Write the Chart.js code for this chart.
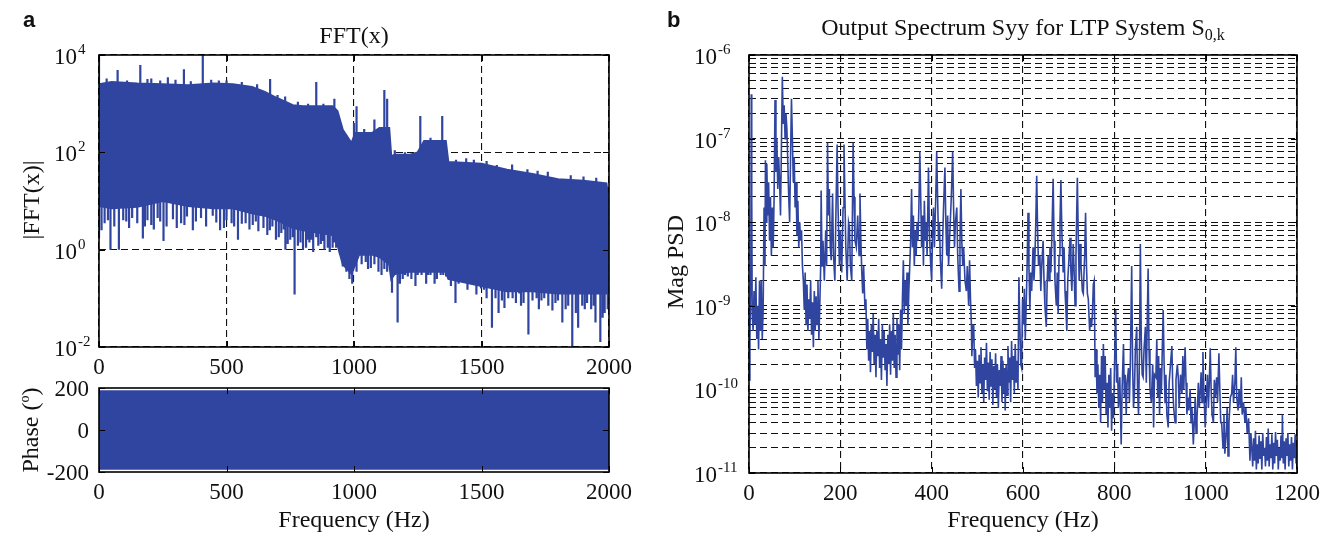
<!DOCTYPE html>
<html lang="en">
<head>
  <meta charset="UTF-8">
  <title>FFT and Output Spectrum</title>
  <script src="https://cdn.jsdelivr.net/npm/chart.js"></script>
  <style>
    body {
      margin: 0;
      background: #fff;
      font-family: 'Liberation Serif', 'Times New Roman', serif;
      color: #111;
    }
    #wrap {
      position: relative;
      width: 1338px;
      height: 539px;
      overflow: hidden;
    }
    #wrap canvas {
      position: absolute;
      left: 0;
      top: 0;
    }
    .txt {
      position: absolute;
      font-size: 24px;
      line-height: 1;
      white-space: nowrap;
    }
    .center { transform: translateX(-50%); }
    .vert { transform: translate(-50%, -50%) rotate(-90deg); }
    .panel {
      position: absolute;
      font-family: 'Liberation Sans', Arial, sans-serif;
      font-weight: bold;
      font-size: 22px;
      line-height: 1;
    }
    sub { font-size: 16px; vertical-align: -5px; }
    sup { font-size: 14px; vertical-align: 9px; }
  </style>
</head>
<body>
<div id="wrap">
  <canvas id="fftChart" width="1338" height="539"></canvas>
  <canvas id="phaseChart" width="1338" height="539"></canvas>
  <canvas id="psdChart" width="1338" height="539"></canvas>

  <div class="panel" style="left:23px;top:9px;">a</div>
  <div class="panel" style="left:667px;top:9px;">b</div>

  <div class="txt center" style="left:354px;top:23px;">FFT(x)</div>
  <div class="txt center" style="left:1023px;top:15px;">Output Spectrum Syy for LTP System S<sub>0,k</sub></div>

  <div class="txt vert" style="left:31px;top:200px;">|FFT(x)|</div>
  <div class="txt vert" style="left:30px;top:430px;">Phase (<sup>o</sup>)</div>
  <div class="txt vert" style="left:675px;top:262px;">Mag PSD</div>

  <div class="txt center" style="left:354px;top:507px;">Frequency (Hz)</div>
  <div class="txt center" style="left:1023px;top:507px;">Frequency (Hz)</div>
</div>

<script>
// ---- panel a: |FFT(x)| band (upper / lower envelope), peaks and dips ----
const fftFreq  = [0, 50, 150, 250, 350, 450, 525, 600, 650, 700, 760, 800, 916, 935, 956, 990, 1005, 1020, 1070, 1100, 1138, 1146, 1160, 1220, 1250, 1275, 1360, 1370, 1500, 1600, 1700, 1800, 1900, 1990, 2000];
const fftUpper = [2500, 2800, 2600, 2500, 2400, 2600, 2500, 2200, 1740, 1290, 930, 890, 890, 710, 290, 155, 250, 250, 250, 316, 316, 83, 89, 89, 100, 170, 170, 63, 58, 44, 36, 28, 26, 23, 9];
const fftLower = [7.9, 7.1, 7.6, 10, 7.9, 7.1, 7.1, 5.6, 5.0, 4.0, 2.8, 2.5, 2.0, 1.26, 0.5, 0.32, 0.5, 0.79, 0.79, 0.71, 0.5, 0.25, 0.32, 0.35, 0.35, 0.35, 0.35, 0.25, 0.18, 0.14, 0.14, 0.126, 0.126, 0.126, 0.25];

const fftPeaks = [[0, 10000], [30, 3300], [73, 4900], [110, 3000], [162, 6200], [190, 3200], [205, 3300], [240, 3000],
  [270, 3500], [300, 3100], [333, 5100], [360, 2900], [407, 10000], [440, 3100], [470, 3000], [500, 3000], [560, 2800],
  [620, 2500], [671, 3200], [700, 1500], [730, 1400], [780, 1100], [820, 1000], [852, 2800], [880, 1000], [923, 1260],
  [1000, 400], [1010, 890], [1040, 300], [1080, 470], [1119, 1900], [1130, 1260], [1160, 110], [1200, 100], [1260, 560],
  [1300, 200], [1346, 560], [1400, 70], [1440, 76], [1470, 70], [1520, 66], [1560, 55], [1620, 56], [1680, 45], [1720, 42],
  [1760, 40], [1850, 34], [1900, 32], [1950, 30]];

const fftDips = [[0, 1.7], [10, 2.5], [22, 3.5], [35, 4], [45, 1.0], [60, 3], [78, 1.0], [95, 4], [107, 3.8], [118, 2.8],
  [130, 4.5], [150, 3.5], [172, 1.7], [180, 3], [190, 4], [205, 3.2], [215, 2.6], [230, 4.5], [240, 3.8], [253, 1.5],
  [265, 3], [290, 4.2], [305, 2.8], [322, 3.5], [335, 3.2], [345, 4.8], [368, 2.5], [380, 3.8], [400, 4.5], [420, 3],
  [446, 5], [460, 3.6], [475, 2.5], [490, 2.8], [500, 4], [520, 3.5], [530, 3], [545, 1.6], [560, 3.4], [575, 3.5],
  [590, 2.6], [603, 3.2], [615, 3.8], [625, 2.4], [645, 2.8], [660, 2], [670, 2.5], [680, 3], [694, 1.6], [705, 1.8],
  [715, 2.2], [725, 2.6], [731, 1.0], [740, 1.3], [750, 1.6], [760, 1.8], [767, 0.12], [780, 1.2], [790, 1.4], [800, 1.0],
  [812, 1.1], [819, 1.6], [825, 1.4], [832, 1.6], [840, 0.9], [852, 1.8], [860, 1.2], [870, 1.3], [878, 1.5], [884, 1.0],
  [897, 1.1], [905, 0.9], [916, 1.1], [923, 1.4], [930, 1.1], [945, 0.8], [956, 0.45], [970, 0.35], [982, 0.25], [993, 0.2],
  [1010, 0.35], [1030, 0.5], [1046, 0.56], [1055, 0.4], [1066, 0.42], [1080, 0.5], [1096, 0.35], [1108, 0.3], [1119, 0.4],
  [1130, 0.35], [1149, 0.13], [1160, 0.3], [1171, 0.032], [1180, 0.2], [1191, 0.25], [1200, 0.3], [1211, 0.28], [1225, 0.25],
  [1241, 0.18], [1250, 0.3], [1265, 0.3], [1283, 0.2], [1290, 0.3], [1300, 0.3], [1316, 0.2], [1325, 0.25], [1340, 0.3],
  [1350, 0.3], [1361, 0.28], [1380, 0.18], [1398, 0.08], [1410, 0.2], [1426, 0.22], [1445, 0.15], [1455, 0.2], [1466, 0.25],
  [1480, 0.12], [1498, 0.16], [1510, 0.15], [1520, 0.1], [1541, 0.025], [1555, 0.1], [1567, 0.05], [1580, 0.09], [1590, 0.063],
  [1605, 0.1], [1622, 0.1], [1635, 0.08], [1648, 0.126], [1655, 0.07], [1665, 0.08], [1684, 0.018], [1700, 0.09], [1716, 0.1],
  [1725, 0.06], [1735, 0.09], [1746, 0.1], [1762, 0.07], [1778, 0.056], [1790, 0.08], [1800, 0.09], [1817, 0.032], [1830, 0.06],
  [1840, 0.07], [1856, 0.01], [1870, 0.05], [1879, 0.025], [1895, 0.07], [1905, 0.06], [1914, 0.08], [1930, 0.06], [1940, 0.07],
  [1947, 0.032], [1966, 0.0126], [1975, 0.04], [1983, 0.05], [1995, 0.06]];

const fftTicksY = [1e-2, 1, 1e2, 1e4];
const freqTicksA = [0, 500, 1000, 1500, 2000];

// ---- panel a: phase ----
const phaseFreq  = [0, 2000];
const phaseUpper = [185, 185];
const phaseLower = [-185, -185];
const phaseTicks = [-200, 0, 200];

// ---- panel b: output spectrum Syy ----
const psdPoints = [
  [0, 1.3e-10], [2, 4e-10], [4, 2.5e-9], [5, 3.4e-7], [6, 2e-8], [7, 8e-10], [9, 5e-10], [11, 1.5e-9], [13, 6e-10], [15, 2.2e-9],
  [17, 4e-10], [19, 1e-9], [21, 3e-10], [23, 2e-9], [25, 5e-10], [27, 2e-9], [29, 4e-10], [31, 9e-10], [33, 1.5e-8], [35, 3e-9],
  [36, 5.5e-8], [38, 1e-8], [39, 5e-8], [41, 1.2e-8], [43, 3e-8], [45, 6e-9], [47, 2e-8], [49, 4e-9], [51, 1.5e-8], [53, 5e-9],
  [55, 2e-8], [57, 2.9e-7], [59, 4e-8], [61, 1e-7], [63, 2.5e-8], [65, 6e-8], [67, 3e-8], [69, 1.2e-8], [71, 8e-8], [73, 5.5e-7],
  [75, 1.5e-7], [77, 2.5e-7], [79, 1e-7], [81, 2e-7], [83, 1.3e-7], [85, 5e-8], [87, 2e-8], [89, 1e-8], [91, 6e-8], [93, 3e-7],
  [95, 1e-7], [97, 3e-8], [99, 6e-8], [101, 1.5e-8], [103, 3e-8], [105, 7e-9], [107, 1.8e-8], [109, 5e-9], [111, 1e-8], [113, 6e-9],
  [115, 8e-9], [117, 3e-9], [119, 2e-9], [121, 9e-10], [123, 2.5e-9], [125, 6e-10], [127, 1.8e-9], [129, 5e-10], [131, 1.2e-9],
  [133, 7e-10], [135, 2e-9], [137, 4.5e-10], [139, 1.1e-9], [141, 3.2e-10], [143, 1.5e-9], [145, 5e-10], [147, 1.3e-9], [149, 6e-10],
  [151, 2e-9], [153, 4e-10], [155, 1e-9], [157, 3e-9], [158, 2.4e-8], [160, 3e-9], [162, 6e-9], [165, 2e-9], [168, 8e-9], [170, 3e-9],
  [172, 9e-8], [174, 1.2e-8], [176, 2.5e-8], [178, 5e-9], [180, 3.5e-9], [183, 2.2e-8], [185, 4e-9], [188, 2e-9], [190, 1e-8],
  [193, 8.5e-8], [195, 1.5e-8], [198, 3e-9], [200, 8e-9], [203, 2.5e-9], [206, 1.5e-8], [208, 8.5e-8], [210, 2e-8], [212, 5e-9],
  [215, 2e-9], [218, 1e-8], [220, 8.7e-9], [222, 3e-9], [225, 2e-9], [228, 9e-8], [230, 2e-8], [232, 6e-9], [235, 5e-9], [238, 1.2e-8],
  [241, 4e-9], [243, 2.2e-8], [245, 6e-9], [247, 2.5e-9], [249, 1.4e-9], [251, 3e-9], [254, 9e-10], [256, 1.2e-9],
  [258, 3e-10], [260, 7e-10], [262, 2.2e-10], [264, 5e-10], [266, 1.6e-10], [268, 6e-10], [270, 2.8e-10], [272, 8e-10], [274, 2e-10],
  [276, 4.5e-10], [278, 1.4e-10], [280, 5e-10], [282, 2.5e-10], [284, 7e-10], [286, 1.8e-10], [288, 4e-10], [290, 1.3e-10], [292, 6e-10],
  [294, 2.4e-10], [296, 5e-10], [298, 1.7e-10], [300, 3.5e-10], [302, 1.1e-10], [304, 4.5e-10], [306, 2e-10], [308, 6e-10], [310, 1.5e-10],
  [312, 5e-10], [314, 2.2e-10], [316, 8e-10], [318, 1.8e-10], [320, 4.5e-10], [322, 1.4e-10], [324, 7e-10], [326, 2.6e-10], [328, 6e-10],
  [330, 1.7e-10], [332, 9e-10], [334, 3e-10], [336, 1.2e-9], [338, 3.5e-9], [340, 8e-10], [342, 2e-9], [344, 1e-9], [346, 2.5e-9],
  [348, 6e-10], [350, 1.5e-9], [352, 3e-9], [354, 6e-9], [356, 2.5e-8], [358, 5e-9], [360, 1.2e-8], [362, 3e-9], [364, 8e-9], [366, 4e-9],
  [368, 1e-8], [370, 6e-9], [372, 1.5e-8], [374, 7e-8], [376, 2e-8], [378, 5e-9], [380, 1.2e-8], [382, 3e-9], [384, 1.8e-8], [386, 6e-9],
  [388, 1e-8], [390, 4e-9], [393, 4.5e-8], [395, 8e-9], [398, 3e-9], [400, 2e-9], [402, 8e-9], [404, 1.5e-8], [406, 5e-9], [409, 2e-8],
  [411, 7e-8], [413, 2e-8], [415, 6e-9], [417, 1e-8], [419, 3.5e-9], [422, 1.6e-9], [424, 6e-9], [426, 1.5e-8], [429, 4.5e-8], [431, 1e-8],
  [433, 4e-9], [435, 1.2e-8], [437, 3e-9], [440, 8e-9], [443, 2e-8], [446, 7e-8], [448, 1.5e-8], [450, 5e-9], [452, 1e-8], [455, 1.5e-8],
  [457, 4e-9], [460, 1.5e-9], [462, 6e-9], [464, 2.5e-8], [466, 6e-9], [468, 3e-9], [470, 5e-9], [473, 2e-9], [476, 1.5e-9], [478, 3e-9],
  [481, 1e-9], [483, 3.5e-9], [485, 1.2e-9], [487, 6e-10], [488, 2.5e-10], [490, 5e-10], [492, 6e-10],
  [494, 1.8e-10], [496, 3e-10], [498, 1.1e-10], [500, 2.2e-10], [502, 8e-11], [504, 2.6e-10], [506, 1.2e-10], [508, 3.2e-10], [510, 9e-11],
  [512, 2e-10], [514, 7e-11], [516, 2.4e-10], [518, 1.3e-10], [520, 3.6e-10], [522, 9.5e-11], [524, 2.1e-10], [526, 7.5e-11], [528, 2.8e-10],
  [530, 1.1e-10], [532, 2.3e-10], [534, 6.5e-11], [536, 1.9e-10], [538, 1e-10], [540, 2.7e-10], [542, 8e-11], [544, 2e-10], [546, 6e-11],
  [548, 1.7e-10], [550, 1.1e-10], [552, 2.5e-10], [554, 7e-11], [556, 2.2e-10], [558, 9e-11], [560, 1.8e-10], [561, 5.6e-11], [563, 2e-10],
  [565, 8.5e-11], [567, 3.3e-10], [569, 1.2e-10], [571, 2.4e-10], [573, 7e-11], [575, 3.8e-10], [577, 1.3e-10], [579, 2.5e-10], [581, 9e-11],
  [583, 3.5e-10], [585, 1.2e-10], [587, 2.2e-10], [589, 1e-10], [591, 2.2e-9], [593, 6e-10], [595, 2e-10], [597, 1.8e-10], [599, 1.2e-9],
  [601, 6e-10], [603, 1.6e-9], [605, 4e-10], [607, 1e-9], [609, 3e-9], [611, 1.3e-8], [613, 3e-9], [615, 9e-10], [617, 2.5e-9], [619, 1.5e-9],
  [622, 5e-9], [624, 2e-9], [626, 3.5e-9], [628, 1e-8], [630, 3.6e-8], [632, 8e-9], [634, 3e-9], [637, 4e-9], [639, 1.5e-9], [641, 3e-9],
  [644, 6e-9], [646, 2e-9], [648, 1e-9], [651, 5.6e-10], [653, 2e-9], [655, 4e-9], [657, 2e-9], [659, 5e-9], [661, 2.5e-9], [663, 6e-9],
  [666, 3.3e-8], [668, 6e-9], [670, 2e-9], [673, 1e-9], [675, 2.5e-9], [677, 8e-10], [679, 4e-9], [681, 1e-8], [683, 3.2e-8], [685, 8e-9],
  [688, 2.5e-9], [690, 5e-9], [692, 1.5e-9], [694, 9e-10], [696, 5e-10], [698, 2e-9], [701, 4e-9], [703, 6.5e-9], [705, 2.5e-9], [707, 1.5e-9],
  [710, 5.5e-9], [712, 2.5e-9], [714, 1e-9], [716, 4e-9], [719, 3.4e-8], [721, 7e-9], [723, 2e-9], [725, 5.5e-9], [727, 3e-9], [730, 1.5e-9],
  [732, 1.4e-9], [735, 4e-9], [737, 1.3e-8], [739, 3e-9], [741, 1.4e-9], [743, 1.2e-9], [746, 5e-10], [748, 7e-10], [750, 5.6e-10],
  [752, 8e-10], [754, 1.8e-9], [756, 2e-9], [758, 1.4e-10], [760, 3e-10], [762, 9e-11], [764, 2e-10], [766, 6e-11], [768, 1.5e-10],
  [770, 4e-11], [772, 2.5e-10], [774, 7e-11], [776, 3.5e-10], [778, 1e-10], [780, 2.5e-10], [782, 5e-11], [784, 1.2e-10], [786, 3.5e-11],
  [788, 1.5e-10], [790, 6e-11], [792, 1.8e-10], [794, 3.2e-11], [796, 9e-11], [798, 4.5e-11], [800, 1.5e-10], [803, 8.9e-10], [805, 1.2e-10],
  [807, 2e-10], [809, 6e-11], [812, 1.4e-10], [815, 2.2e-11], [817, 1e-10], [820, 3.5e-10], [822, 8e-11], [824, 1.5e-10], [826, 5e-11],
  [828, 1.2e-10], [831, 1.8e-10], [833, 7e-11], [835, 2e-10], [838, 3e-9], [840, 2e-10], [842, 6e-11], [844, 8.9e-11], [846, 3e-10],
  [849, 5.6e-10], [851, 9e-11], [853, 5e-11], [855, 2.5e-10], [857, 5.5e-9], [859, 4e-10], [861, 1.5e-10], [863, 1.4e-10], [865, 3e-10],
  [868, 5.6e-10], [870, 1.2e-10], [872, 6e-10], [874, 2.8e-9], [876, 3e-10], [878, 1e-10], [881, 7e-11], [884, 2e-10], [886, 3.5e-11],
  [888, 1.5e-10], [891, 1.4e-10], [893, 4e-10], [895, 8e-11], [897, 2.5e-10], [899, 5e-11], [901, 1.8e-10], [903, 9e-11], [905, 3e-10],
  [907, 8.9e-10], [909, 2e-10], [911, 7e-11], [913, 1.5e-10], [915, 5e-11], [918, 3.5e-11], [920, 1.2e-10], [923, 2e-10], [926, 3.3e-10],
  [928, 1e-10], [930, 6e-11], [933, 4e-11], [935, 1.3e-10], [938, 2e-10], [940, 1.4e-10], [942, 6e-11], [945, 1.5e-10], [948, 8.9e-11],
  [950, 2.5e-10], [952, 1e-10], [955, 3.2e-10], [957, 1.2e-10], [959, 5e-11], [961, 8e-11], [963, 5.6e-11], [966, 1e-10], [968, 4e-11],
  [970, 6e-11], [973, 2.2e-11], [975, 4e-11], [977, 8e-11], [979, 3e-11], [981, 4.5e-11], [984, 1.2e-10], [986, 6e-11], [988, 9e-11],
  [990, 1.6e-10], [992, 7e-11], [994, 2.8e-10], [996, 1e-10], [999, 3.5e-11], [1002, 8.9e-11], [1004, 1.5e-10], [1006, 6e-11], [1008, 1.2e-10],
  [1010, 3.1e-10], [1012, 1e-10], [1014, 5e-11], [1017, 4e-11], [1019, 1.3e-10], [1021, 8e-11], [1024, 1.4e-10], [1026, 7e-11], [1029, 2.7e-10],
  [1031, 1e-10], [1033, 4e-11], [1035, 4e-11], [1038, 2e-11], [1040, 5e-11], [1042, 1.7e-11], [1045, 3e-11], [1047, 6e-11], [1049, 1.6e-11],
  [1051, 4e-11], [1054, 8e-11], [1057, 8.9e-11], [1059, 1.5e-10], [1061, 7e-11], [1064, 1.2e-10], [1066, 3.2e-10], [1068, 8e-11], [1071, 5.6e-11],
  [1073, 1e-10], [1076, 6e-11], [1078, 1.4e-10], [1080, 5e-11], [1083, 7e-11], [1086, 4e-11], [1088, 6e-11], [1091, 3e-11], [1094, 4.5e-11],
  [1097, 1.4e-11], [1099, 3e-11], [1101, 2e-11], [1103, 1.2e-11], [1105, 2.6e-11], [1107, 1.4e-11], [1109, 3.2e-11], [1111, 1.1e-11],
  [1113, 2.2e-11], [1115, 1.3e-11], [1117, 2.8e-11], [1119, 1.5e-11], [1121, 2.4e-11], [1123, 1.1e-11], [1125, 3e-11], [1127, 1.6e-11],
  [1129, 2e-11], [1131, 1.2e-11], [1133, 2.7e-11], [1135, 1.4e-11], [1137, 3.4e-11], [1139, 1.2e-11], [1141, 2.2e-11], [1143, 1.5e-11],
  [1145, 2.9e-11], [1147, 1.1e-11], [1149, 2.3e-11], [1151, 1.3e-11], [1153, 3.1e-11], [1155, 1.6e-11], [1157, 2.5e-11], [1159, 1.1e-11],
  [1161, 2e-11], [1163, 1.4e-11], [1165, 2.8e-11], [1167, 1.5e-11], [1168, 5e-11], [1170, 1.3e-11], [1172, 2.4e-11], [1174, 1.1e-11],
  [1176, 2.6e-11], [1178, 1.6e-11], [1180, 3e-11], [1182, 1.2e-11], [1184, 2.2e-11], [1186, 1.4e-11], [1188, 2.7e-11], [1190, 1.1e-11],
  [1192, 2.3e-11], [1194, 1.5e-11], [1196, 2.9e-11], [1198, 1.3e-11], [1200, 2.1e-11]
];

const psdTicksX = [0, 200, 400, 600, 800, 1000, 1200];
const psdDecades = [1e-11, 1e-10, 1e-9, 1e-8, 1e-7, 1e-6];

// ---------------------------------------------------------------
const BLUE = '#3045a0';
const SERIF = "'Liberation Serif', 'Times New Roman', serif";

// geometric interpolation of an envelope at frequency f
function envAt(vals, f) {
  for (let i = 0; i < fftFreq.length - 1; i++) {
    if (f <= fftFreq[i + 1]) {
      const t = (f - fftFreq[i]) / (fftFreq[i + 1] - fftFreq[i]);
      return Math.exp(Math.log(vals[i]) * (1 - t) + Math.log(vals[i + 1]) * t);
    }
  }
  return vals[vals.length - 1];
}

// vertical strokes from inside the band out to each spike value
function spikeSegments(list) {
  const out = [];
  list.forEach(([f, v]) => {
    const mid = Math.sqrt(envAt(fftUpper, f) * envAt(fftLower, f));
    out.push({ x: f, y: mid }, { x: f, y: v }, { x: f, y: null });
  });
  return out;
}

// box, inward tick marks and tick labels drawn around the chart area
const frame = {
  id: 'frame',
  afterDraw(chart, args, o) {
    const ctx = chart.ctx;
    const a = chart.chartArea;
    const xs = chart.scales.x, ys = chart.scales.y;
    ctx.save();
    ctx.strokeStyle = '#000';
    ctx.fillStyle = '#111';
    ctx.lineWidth = 1;
    ctx.beginPath();
    o.xTicks.forEach(v => {
      const px = Math.round(xs.getPixelForValue(v)) + 0.5;
      ctx.moveTo(px, a.bottom); ctx.lineTo(px, a.bottom - 6);
      ctx.moveTo(px, a.top); ctx.lineTo(px, a.top + 6);
    });
    o.yTicks.forEach(v => {
      const py = Math.round(ys.getPixelForValue(v)) + 0.5;
      ctx.moveTo(a.left, py); ctx.lineTo(a.left + 6, py);
      ctx.moveTo(a.right, py); ctx.lineTo(a.right - 6, py);
    });
    ctx.stroke();
    ctx.lineWidth = 1.6;
    ctx.strokeRect(a.left, a.top, a.right - a.left, a.bottom - a.top);

    ctx.font = '23px ' + SERIF;
    ctx.textAlign = 'center';
    ctx.textBaseline = 'alphabetic';
    o.xTicks.forEach(v => ctx.fillText(String(v), xs.getPixelForValue(v), a.bottom + 27));

    o.yTicks.forEach(v => {
      const py = ys.getPixelForValue(v);
      if (o.log) {
        const e = Math.round(Math.log10(v));
        ctx.font = '23px ' + SERIF;
        ctx.textAlign = 'right';
        ctx.textBaseline = 'middle';
        ctx.fillText('10', a.left - o.yGap, py + 3);
        ctx.font = '15px ' + SERIF;
        ctx.textAlign = 'left';
        ctx.fillText(String(e), a.left - o.yGap + 1, py - 5);
      } else {
        ctx.font = '23px ' + SERIF;
        ctx.textAlign = 'right';
        ctx.textBaseline = 'middle';
        ctx.fillText(String(v), a.left - o.yGap, py + 2);
      }
    });
    ctx.restore();
  }
};

function baseOptions(pad) {
  return {
    responsive: false,
    animation: false,
    devicePixelRatio: 1,
    events: [],
    layout: { padding: pad },
    plugins: { legend: { display: false }, tooltip: { enabled: false } },
    elements: { point: { radius: 0 }, line: { tension: 0 } }
  };
}

function axis(extra) {
  return Object.assign({
    ticks: { display: false },
    grid: { color: '#111', lineWidth: 1.1, drawTicks: false },
    border: { display: false, dash: [7, 4] },
    afterFit(s) { if (s.isHorizontal()) s.height = 0; else s.width = 0; }
  }, extra);
}

// ---- |FFT(x)| ----
const fftOpts = baseOptions({ left: 99, right: 729, top: 55, bottom: 192 });
fftOpts.scales = {
  x: axis({ type: 'linear', min: 0, max: 2000, afterBuildTicks(s) { s.ticks = freqTicksA.map(v => ({ value: v })); } }),
  y: axis({ type: 'logarithmic', min: 1e-2, max: 1e4, afterBuildTicks(s) { s.ticks = fftTicksY.map(v => ({ value: v })); } })
};
fftOpts.plugins.frame = { xTicks: freqTicksA, yTicks: fftTicksY, log: true, yGap: 22 };

new Chart(document.getElementById('fftChart'), {
  type: 'line',
  data: {
    datasets: [
      { data: fftFreq.map((f, i) => ({ x: f, y: fftUpper[i] })), borderColor: BLUE, backgroundColor: BLUE, borderWidth: 2, fill: '+1' },
      { data: fftFreq.map((f, i) => ({ x: f, y: fftLower[i] })), borderColor: BLUE, borderWidth: 2, fill: false },
      { data: spikeSegments(fftPeaks), borderColor: BLUE, borderWidth: 2.2, fill: false, spanGaps: false },
      { data: spikeSegments(fftDips), borderColor: BLUE, borderWidth: 2.2, fill: false, spanGaps: false }
    ]
  },
  options: fftOpts,
  plugins: [frame]
});

// ---- phase ----
const phaseOpts = baseOptions({ left: 99, right: 729, top: 388, bottom: 67 });
phaseOpts.scales = {
  x: axis({ type: 'linear', min: 0, max: 2000, grid: { display: false } }),
  y: axis({ type: 'linear', min: -200, max: 200, grid: { display: false } })
};
phaseOpts.plugins.frame = { xTicks: freqTicksA, yTicks: phaseTicks, log: false, yGap: 10 };

new Chart(document.getElementById('phaseChart'), {
  type: 'line',
  data: {
    datasets: [
      { data: phaseFreq.map((f, i) => ({ x: f, y: phaseUpper[i] })), borderColor: BLUE, backgroundColor: BLUE, borderWidth: 2, fill: '+1' },
      { data: phaseFreq.map((f, i) => ({ x: f, y: phaseLower[i] })), borderColor: BLUE, borderWidth: 2, fill: false }
    ]
  },
  options: phaseOpts,
  plugins: [frame]
});

// ---- Syy ----
const psdGridTicks = [];
psdDecades.forEach((d, i) => {
  if (i === psdDecades.length - 1) { psdGridTicks.push(d); return; }
  for (let m = 1; m <= 9; m++) psdGridTicks.push(m * d);
});

const psdOpts = baseOptions({ left: 749, right: 41, top: 55, bottom: 66 });
psdOpts.scales = {
  x: axis({ type: 'linear', min: 0, max: 1200, afterBuildTicks(s) { s.ticks = psdTicksX.map(v => ({ value: v })); } }),
  y: axis({ type: 'logarithmic', min: 1e-11, max: 1e-6, afterBuildTicks(s) { s.ticks = psdGridTicks.map(v => ({ value: v })); } })
};
psdOpts.plugins.frame = { xTicks: psdTicksX, yTicks: psdDecades, log: true, yGap: 32 };

new Chart(document.getElementById('psdChart'), {
  type: 'line',
  data: {
    datasets: [
      { data: psdPoints.map(([f, v]) => ({ x: f, y: v })), borderColor: BLUE, borderWidth: 1.6, fill: false }
    ]
  },
  options: psdOpts,
  plugins: [frame]
});
</script>
</body>
</html>
